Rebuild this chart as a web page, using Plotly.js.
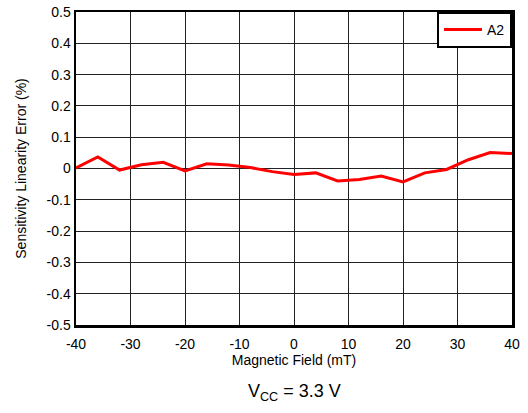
<!DOCTYPE html>
<html>
<head>
<meta charset="utf-8">
<script src="https://cdn.plot.ly/plotly-3.0.1.min.js"></script>
<style>
  html, body { margin: 0; padding: 0; background: #fff; }
  #chart { width: 528px; height: 413px; }
</style>
</head>
<body>
<div id="chart"></div>
<script>
// Magnetic field sweep (mT) and measured sensitivity linearity error (%) for A2
const fieldMT = [-40, -36, -32, -28, -24, -20, -16, -12, -8, -4, 0, 4, 8, 12, 16, 20, 24, 28, 32, 36, 40];
const errorA2 = [0.002, 0.037, -0.005, 0.012, 0.02, -0.008, 0.015, 0.011, 0.003, -0.01, -0.019, -0.014, -0.04, -0.035, -0.024, -0.043, -0.014, -0.003, 0.028, 0.051, 0.048];

const xTicks = [-40, -30, -20, -10, 0, 10, 20, 30, 40];
const yTicks = [0.5, 0.4, 0.3, 0.2, 0.1, 0, -0.1, -0.2, -0.3, -0.4, -0.5];
const yTickText = ['0.5', '0.4', '0.3', '0.2', '0.1', '0', '-0.1', '-0.2', '-0.3', '-0.4', '-0.5'];

const font = { family: 'Liberation Sans, Arial, sans-serif', size: 14, color: '#000' };

const traces = [{
  x: fieldMT,
  y: errorA2,
  name: 'A2',
  type: 'scatter',
  mode: 'lines',
  line: { color: '#ff0000', width: 3 }
}];

const layout = {
  width: 528,
  height: 413,
  margin: { l: 76, r: 16, t: 12, b: 88 },
  paper_bgcolor: '#fff',
  plot_bgcolor: '#fff',
  font: font,
  showlegend: true,
  legend: {
    x: 1, y: 1, xanchor: 'right', yanchor: 'top',
    bgcolor: '#fff', bordercolor: '#000', borderwidth: 2,
    itemwidth: 38,
    font: font
  },
  xaxis: {
    range: [-40, 40],
    tickvals: xTicks,
    ticktext: xTicks.map(String),
    ticks: 'outside', ticklen: 5, tickcolor: 'rgba(0,0,0,0)',
    showgrid: true, gridcolor: '#222', gridwidth: 1,
    zeroline: false,
    showline: true, linecolor: '#000', linewidth: 2.5, mirror: true,
    tickfont: font,
    title: { text: 'Magnetic Field (mT)', font: font, standoff: 3 }
  },
  yaxis: {
    range: [-0.5, 0.5],
    tickvals: yTicks,
    ticktext: yTickText,
    ticks: '',
    showgrid: true, gridcolor: '#222', gridwidth: 1,
    zeroline: false,
    showline: true, linecolor: '#000', linewidth: 2.5, mirror: true,
    tickfont: font,
    title: { text: 'Sensitivity Linearity Error (%)', font: font, standoff: 17 }
  },
  annotations: [{
    xref: 'paper', yref: 'paper',
    x: 0.5, y: -0.217, yanchor: 'middle', xanchor: 'center',
    showarrow: false,
    text: 'V<sub>CC</sub> = 3.3 V',
    font: { family: 'Liberation Sans, Arial, sans-serif', size: 18, color: '#000' }
  }]
};

Plotly.newPlot('chart', traces, layout, { displayModeBar: false, staticPlot: true });
</script>
</body>
</html>
